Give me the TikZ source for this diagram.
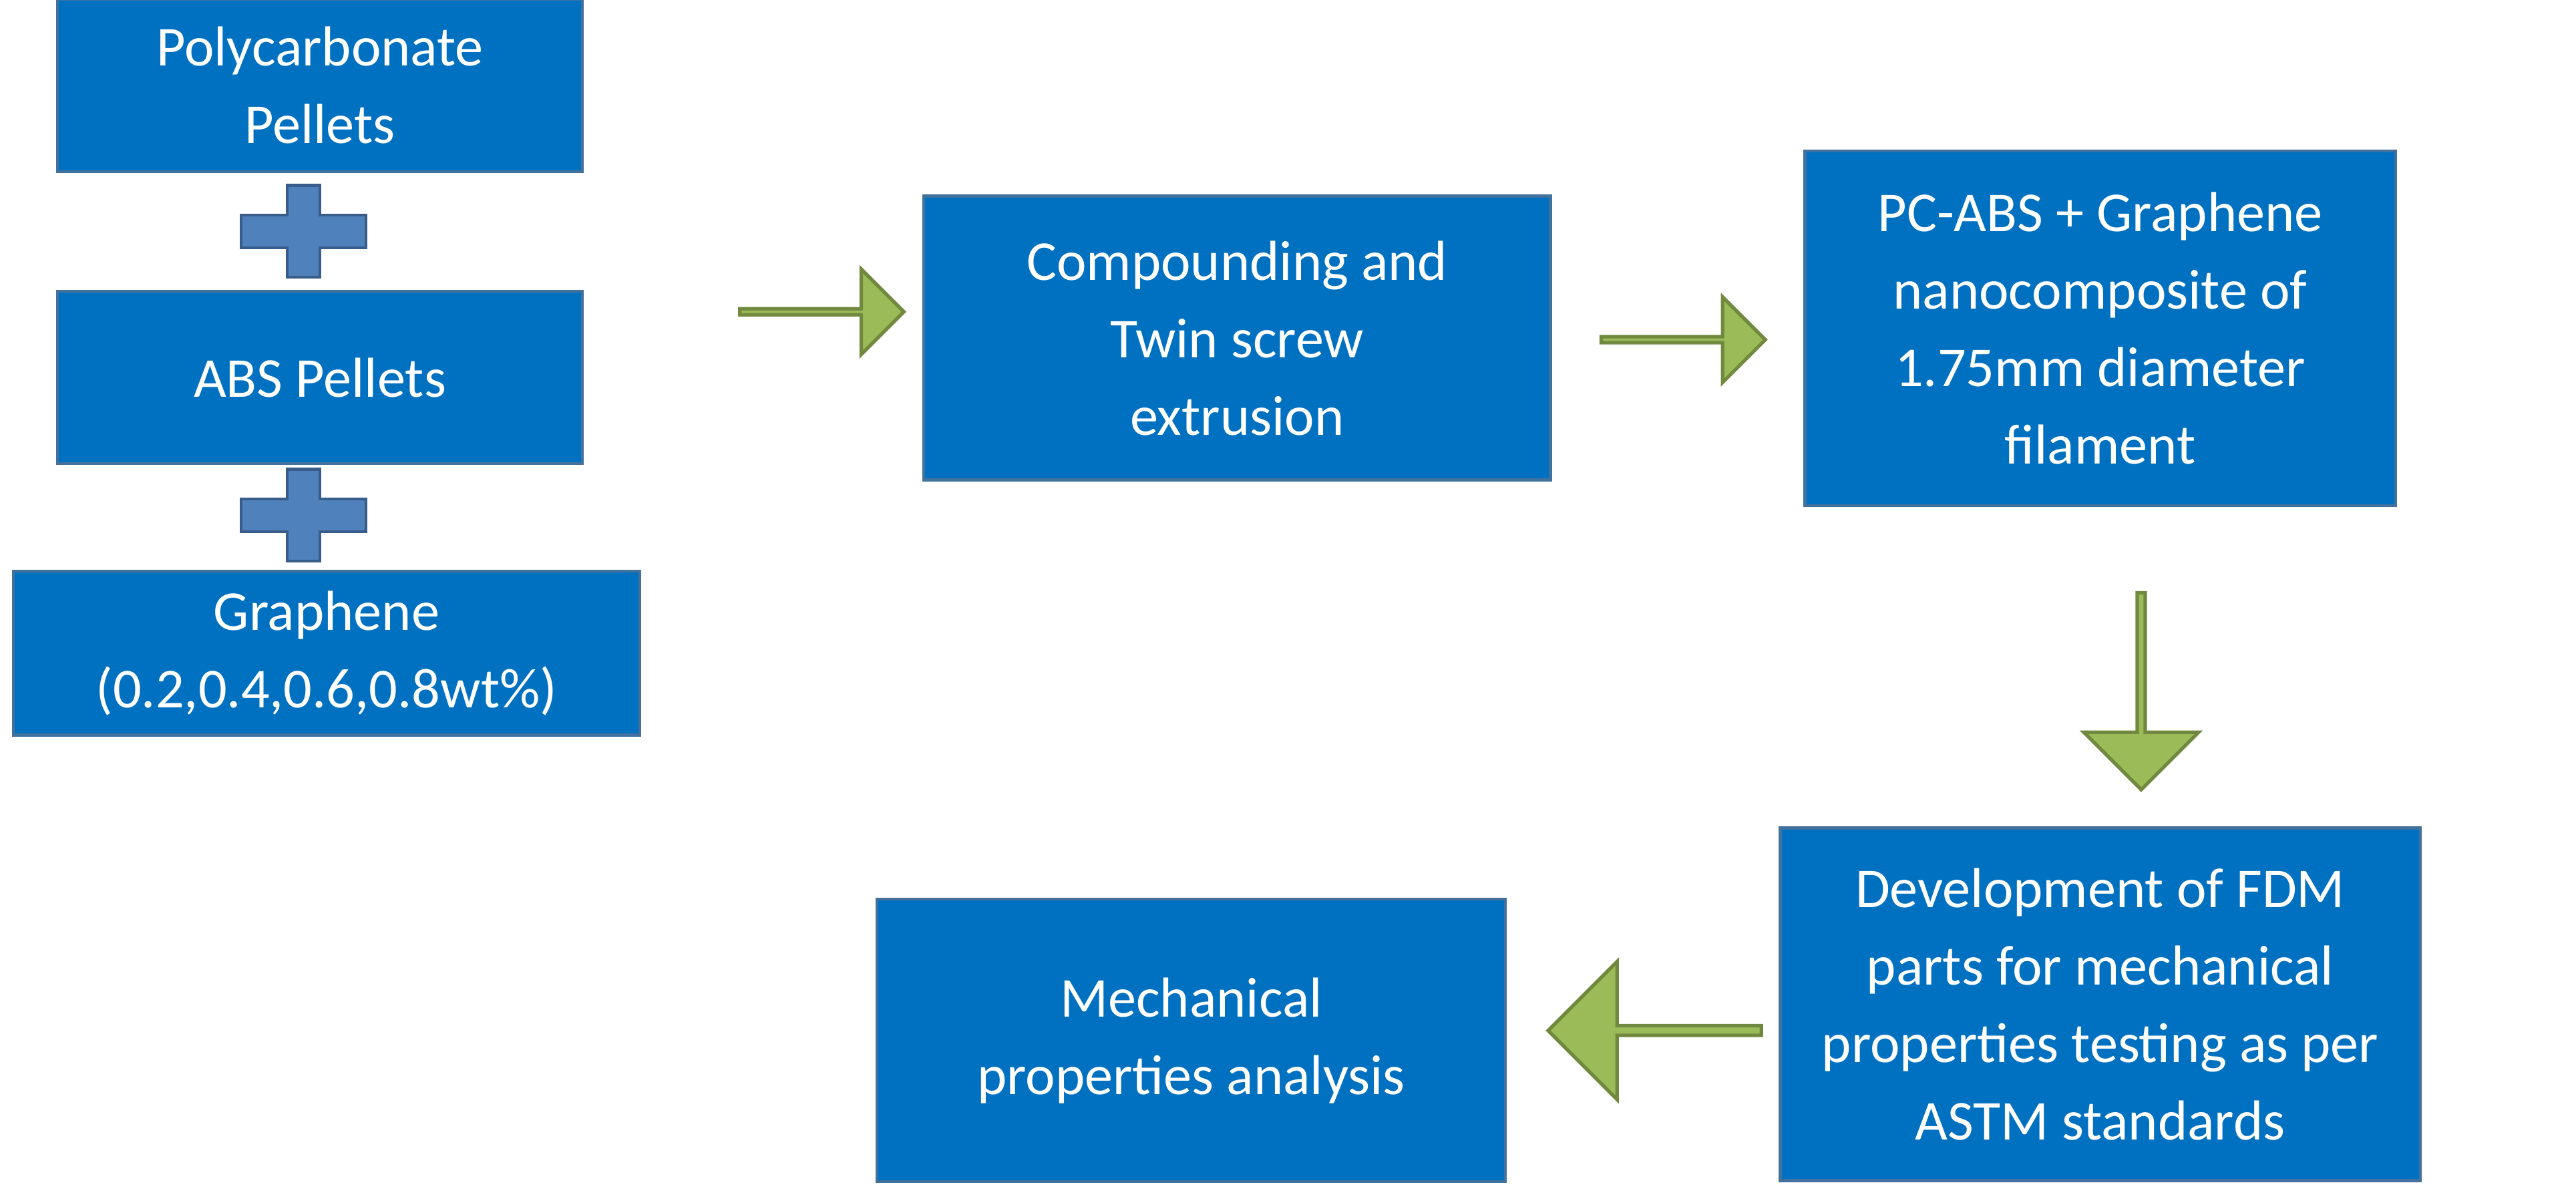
\documentclass[tikz,border=0pt]{standalone}
\usepackage{fontspec}
\setmainfont{Carlito}
\usetikzlibrary{shapes.arrows}
\begin{document}
\begin{tikzpicture}[x=0.02457cm,y=-0.02457cm]
 \definecolor{boxfill}{RGB}{0,112,192}
 \definecolor{boxline}{RGB}{65,113,156}
 \definecolor{arrfill}{RGB}{155,187,89}
 \definecolor{arrline}{RGB}{113,137,63}
 \definecolor{plusfill}{RGB}{79,129,189}
 \definecolor{plusline}{RGB}{56,93,138}
 \tikzset{
   box/.style={draw=boxline,line width=1.2pt,fill=boxfill,text=white,
     font=\fontsize{24}{33}\selectfont,align=center,inner sep=0pt},
   garrow/.style={single arrow,draw=arrline,line width=1.5pt,fill=arrfill,
     inner sep=0pt,single arrow head extend=0.35cm},
 }
 \useasboundingbox (0,0) rectangle (1570,733);
 \node[box,minimum width=320*0.02457cm,minimum height=105*0.02457cm] (pc) at (195,52) {Polycarbonate\\Pellets};
 \node[box,minimum width=320*0.02457cm,minimum height=105*0.02457cm] (abs) at (195,230) {ABS Pellets};
 \node[box,minimum width=382*0.02457cm,minimum height=100*0.02457cm] (gr) at (199,398) {Graphene\\(0.2,0.4,0.6,0.8wt\%)};
 \node[box,minimum width=382*0.02457cm,minimum height=173*0.02457cm] (comp) at (754,206) {Compounding and\\Twin screw\\extrusion};
 \node[box,minimum width=360*0.02457cm,minimum height=216*0.02457cm] (fil) at (1280,200) {PC-ABS + Graphene\\nanocomposite of\\1.75mm diameter\\filament};
 \node[box,minimum width=390*0.02457cm,minimum height=215*0.02457cm] (fdm) at (1280,612) {Development of FDM\\parts for mechanical\\properties testing as per\\ASTM standards};
 \node[box,minimum width=383*0.02457cm,minimum height=172*0.02457cm] (mech) at (726,634) {Mechanical\\properties analysis};
 % plus signs
 \foreach \n/\yp in {p1/141,p2/314} {
   \path[draw=plusline,line width=1.2pt,fill=plusfill]
     (175,\yp-28) -- (195,\yp-28) -- (195,\yp-10) -- (223,\yp-10) -- (223,\yp+10)
     -- (195,\yp+10) -- (195,\yp+28) -- (175,\yp+28) -- (175,\yp+10) -- (147,\yp+10)
     -- (147,\yp-10) -- (175,\yp-10) -- cycle;
 }
 % block arrows
 \node[garrow,minimum height=100*0.02457cm,minimum width=52*0.02457cm] (a1) at (500,190) {};
 \node[garrow,minimum height=100*0.02457cm,minimum width=52*0.02457cm] (a2) at (1025,207) {};
 \node[garrow,shape border rotate=270,minimum height=120*0.02457cm,minimum width=70*0.02457cm] (a3) at (1305,420) {};
 \node[garrow,shape border rotate=180,minimum height=130*0.02457cm,minimum width=84*0.02457cm] (a4) at (1010,628) {};
\end{tikzpicture}
\end{document}
